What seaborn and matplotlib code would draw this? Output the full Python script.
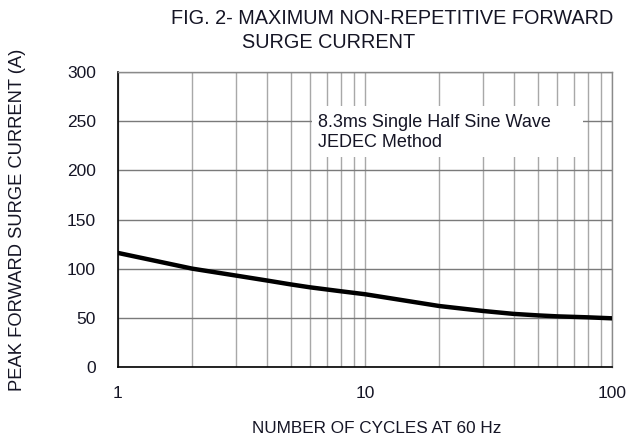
import numpy as np
import pandas as pd
import matplotlib
matplotlib.use("Agg")
import matplotlib.pyplot as plt
import seaborn as sns
from matplotlib.patches import Rectangle
from matplotlib.ticker import FixedLocator, NullFormatter

# values
cycles = [1, 2, 3, 4, 5, 6, 8, 10, 20, 30, 40, 50, 60, 80, 100]
surge_current = [116, 100, 93, 88, 84, 81, 77, 74, 62, 57, 54, 52.5, 51.5, 50.5, 49.5]

y_ticks = [0, 50, 100, 150, 200, 250, 300]
x_ticks = [1, 10, 100]
x_minor = [2, 3, 4, 5, 6, 7, 8, 9, 20, 30, 40, 50, 60, 70, 80, 90]

title_line1 = "FIG. 2- MAXIMUM NON-REPETITIVE FORWARD"
title_line2 = "SURGE CURRENT"
note = "8.3ms Single Half Sine Wave\nJEDEC Method"

sns.set_style("white")
plt.rcParams['font.family'] = ['Liberation Sans', 'DejaVu Sans']
text_color = "#151525"

df = pd.DataFrame({"cycles": cycles, "current": surge_current})

fig = plt.figure(figsize=(6.35, 4.41), dpi=100)
ax = fig.add_axes([118 / 635, 1 - 367 / 441, (612 - 118) / 635, (367 - 72) / 441])

sns.lineplot(data=df, x="cycles", y="current", ax=ax, color="black",
             linewidth=3.2, solid_capstyle="round", zorder=3)

ax.set_xscale("log")
ax.set_xlim(1, 100)
ax.set_ylim(0, 300)
ax.xaxis.set_major_locator(FixedLocator(x_ticks))
ax.xaxis.set_minor_locator(FixedLocator(x_minor))
ax.xaxis.set_minor_formatter(NullFormatter())
ax.set_xticklabels([str(v) for v in x_ticks])
ax.set_yticks(y_ticks)

ax.grid(which="major", axis="y", color="#7a7a7a", linewidth=1.0)
ax.grid(which="both", axis="x", color="#a8a8a8", linewidth=1.0)
ax.set_axisbelow(True)

for s in ["top", "right"]:
    ax.spines[s].set_color("#8a8a8a")
    ax.spines[s].set_linewidth(1.0)
for s in ["left", "bottom"]:
    ax.spines[s].set_color("black")
    ax.spines[s].set_linewidth(1.2)

ax.tick_params(axis="y", which="both", length=0, pad=16, labelsize=12.5, labelcolor=text_color)
ax.tick_params(axis="x", which="both", length=0, pad=14, labelsize=12.5, labelcolor=text_color)

ax.set_xlabel("NUMBER OF CYCLES AT 60 Hz", fontsize=12.3, color=text_color)
ax.set_ylabel("PEAK FORWARD SURGE CURRENT (A)", fontsize=13.2, color=text_color)
ax.xaxis.set_label_coords(0.524, -0.183)
ax.yaxis.set_label_coords(-0.186, 0.5)

# white panel behind the note
ax.add_patch(Rectangle((0.393, 0.712), 0.548, 0.173, transform=ax.transAxes,
                       facecolor="white", edgecolor="none", zorder=2.5))
ax.text(0.405, 0.795, note, transform=ax.transAxes, fontsize=13, color=text_color,
        va="center", ha="left", linespacing=1.2, zorder=4)

fig.text(171 / 635, 1 - 19 / 441, title_line1, fontsize=14.3, color=text_color, ha="left", va="center")
fig.text(242 / 635, 1 - 43 / 441, title_line2, fontsize=14.3, color=text_color, ha="left", va="center")

fig.savefig("out.png", dpi=100)
